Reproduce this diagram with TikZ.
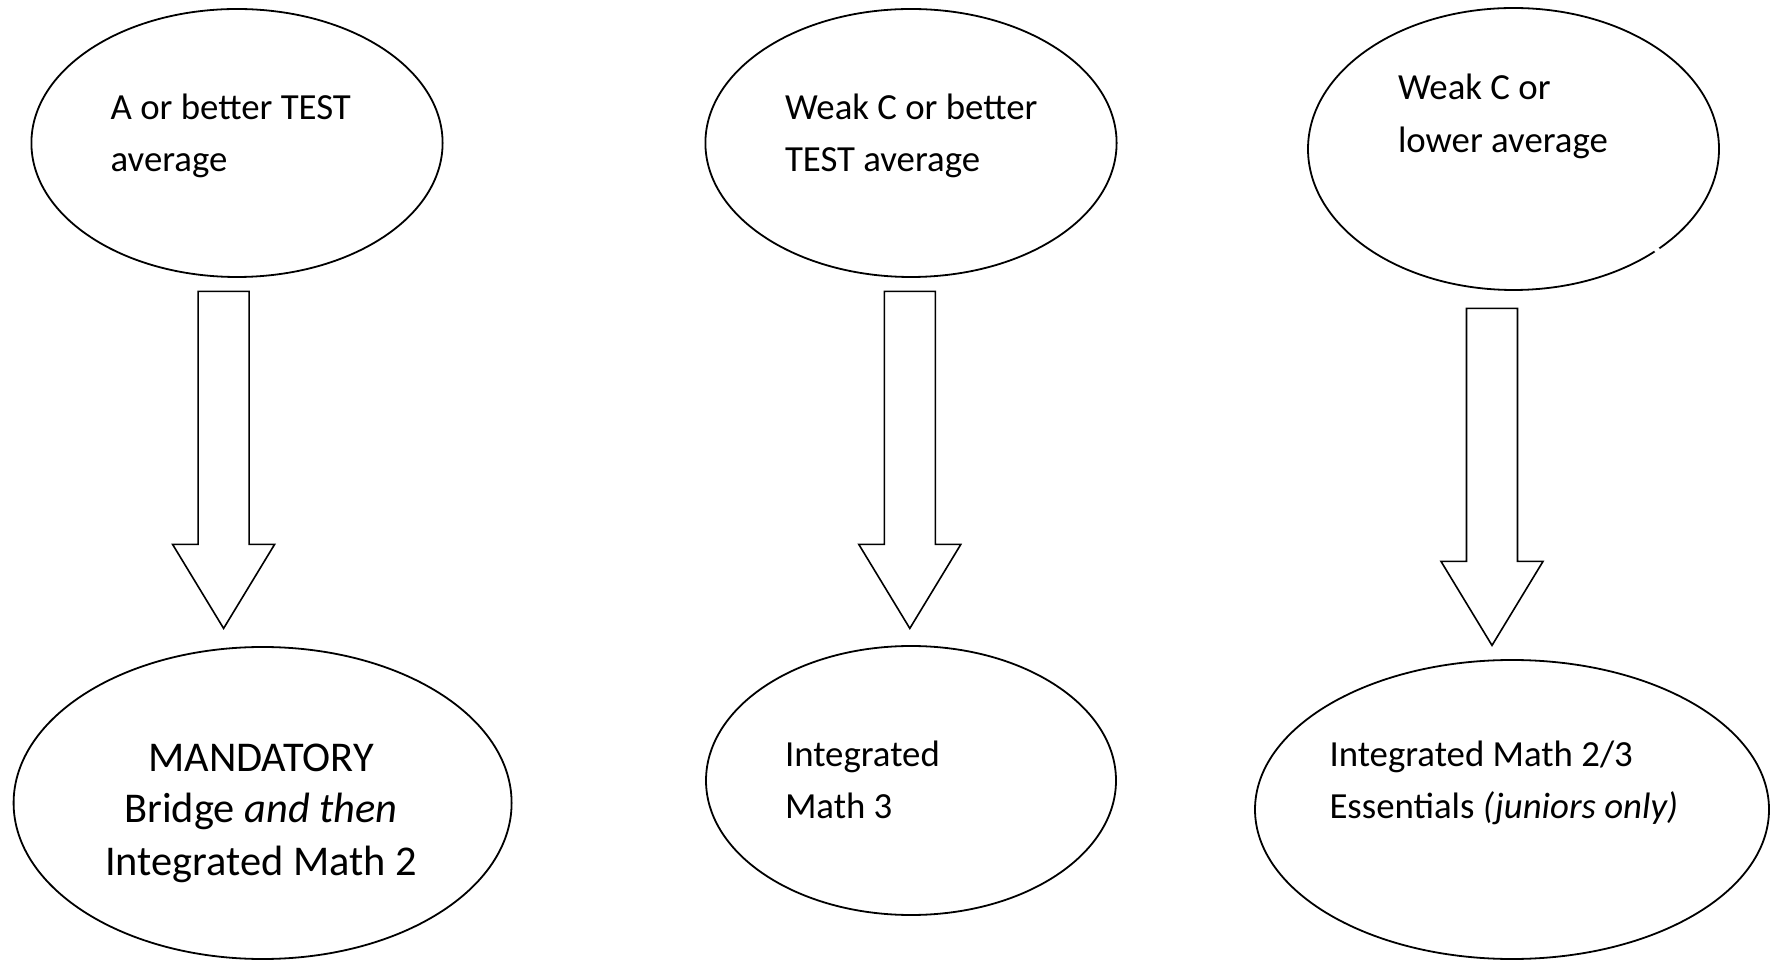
\documentclass[tikz,border=0pt]{standalone}
\usepackage{fontspec}
\setmainfont{Carlito}
\usetikzlibrary{shapes.geometric}
\begin{document}
\begin{tikzpicture}[x=0.5pt,y=-0.5pt,
  ell/.style={draw=black, line width=0.9pt, ellipse, inner sep=0pt, outer sep=0pt},
  txt/.style={inner sep=0pt, outer sep=0pt, font=\fontsize{18.4pt}{26pt}\selectfont},
  bigtxt/.style={inner sep=0pt, outer sep=0pt, font=\fontsize{21.2pt}{26pt}\selectfont},
  barrow/.style={draw=black, line width=0.8pt, line join=miter, fill=white}]
\useasboundingbox[fill=white] (0,0) rectangle (1771,961);

% ellipses
\node[ell, minimum width=205.6pt, minimum height=134pt] (e1) at (237,143) {};
\node[ell, minimum width=205.6pt, minimum height=134pt] (e2) at (911,143) {};
\node[ell, minimum width=205.5pt, minimum height=141pt] (e3) at (1513.5,149) {};
\node[ell, minimum width=249pt, minimum height=156pt] (e4) at (262.6,803) {};
\node[ell, minimum width=205pt, minimum height=134.5pt] (e5) at (911,780.5) {};
\node[ell, minimum width=257pt, minimum height=149.5pt] (e6) at (1512,809.5) {};
\fill[white] (1657,250) circle (3);

% texts
\node[txt, anchor=base west] (t1a) at (110.7,120) {A or better TEST};
\node[txt, anchor=base west] (t1b) at (110.7,172) {average};
\node[txt, anchor=base west] (t2a) at (785,120) {Weak C or better};
\node[txt, anchor=base west] (t2b) at (785,172) {TEST average};
\node[txt, anchor=base west] (t3a) at (1398,100) {Weak C or};
\node[txt, anchor=base west] (t3b) at (1398,153) {lower average};
\node[bigtxt, anchor=base] (t4a) at (261,771.7) {MANDATORY};
\node[bigtxt, anchor=base] (t4b) at (261,822.7) {Bridge \textit{and then}};
\node[bigtxt, anchor=base] (t4c) at (261,875) {Integrated Math 2};
\node[txt, anchor=base west] (t5a) at (785,766.5) {Integrated};
\node[txt, anchor=base west] (t5b) at (785,818) {Math 3};
\node[txt, anchor=base west] (t6a) at (1329.5,766.5) {Integrated Math 2/3};
\node[txt, anchor=base west] (t6b) at (1329.5,818) {Essentials \textit{(juniors only)}};

% block arrows
\coordinate (a1) at (223.6,291.4);
\coordinate (a2) at (909.8,291.4);
\coordinate (a3) at (1492,308.4);
\foreach \c in {a1,a2,a3}{
  \draw[barrow] (\c) ++(-25.5,0) -- ++(0,253) -- ++(-25.5,0) -- ++(51,84)
    -- ++(51,-84) -- ++(-25.5,0) -- ++(0,-253) -- cycle;
}
\end{tikzpicture}
\end{document}
